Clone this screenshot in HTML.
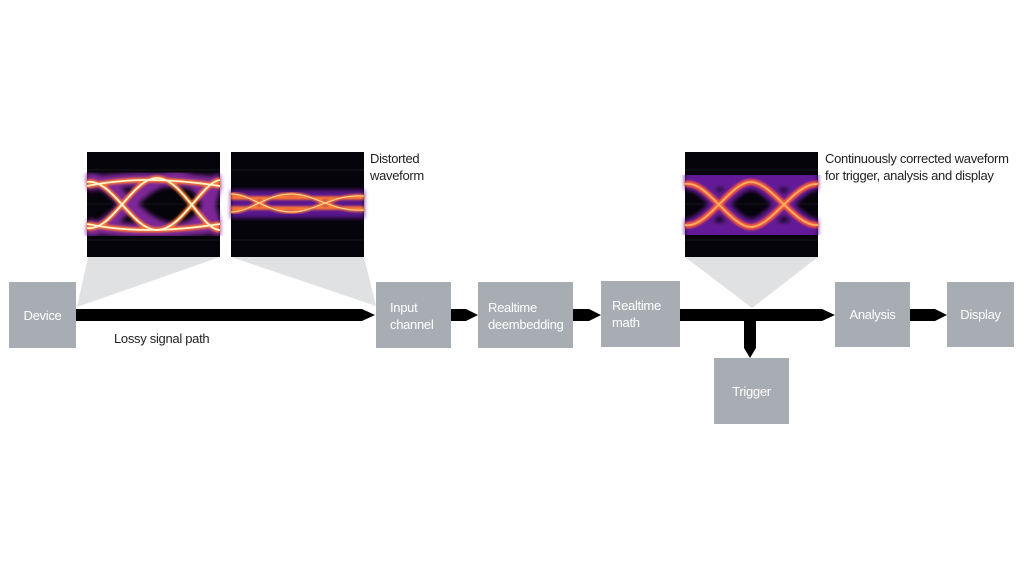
<!DOCTYPE html>
<html><head><style>
body{margin:0;width:1024px;height:576px;background:#fff;position:relative;overflow:hidden;font-family:"Liberation Sans",sans-serif}
.b{position:absolute;background:#a8adb3;color:#fff;font-size:13px;line-height:17px;box-sizing:border-box;letter-spacing:-0.3px}
.c{display:flex;align-items:center;justify-content:center}
.t{position:absolute;font-size:13px;line-height:17px;color:#222;letter-spacing:-0.3px}
</style></head><body>
<svg width="1024" height="576" style="position:absolute;left:0;top:0">
<defs>
<filter id="bl"><feGaussianBlur stdDeviation="2.5"/></filter>
<filter id="bl2"><feGaussianBlur stdDeviation="1"/></filter>
<g id="eye">
<rect width="133" height="105" fill="#05040a"/>
<g stroke="#2a2a2a" stroke-width="0.5">
<line x1="0" y1="18" x2="133" y2="18"/><line x1="0" y1="52" x2="133" y2="52"/><line x1="0" y1="88" x2="133" y2="88"/>
</g>
</g>
</defs>
<polygon points="88,257 220,257 77,307" fill="#dfe1e3"/>
<polygon points="231,257 364,257 376,306" fill="#dfe1e3"/>
<polygon points="685,257 818,257 752,308" fill="#dfe1e3"/>
<!-- image 1 -->
<g transform="translate(87,152)">
<use href="#eye"/>
<g fill="none" filter="url(#bl)" stroke="#8a2aa8" stroke-width="14" opacity="0.9">
<path d="M0,28 C30,24 50,80 90,78 S120,30 133,28"/><path d="M0,78 C30,80 50,24 90,26 S120,78 133,78"/>
<path d="M0,32 C40,26 80,26 133,32"/><path d="M0,74 C40,80 80,80 133,74"/>
</g>
<g fill="none" filter="url(#bl2)" stroke="#ff7a30" stroke-width="5">
<path d="M0,30 C25,26 45,78 70,78 S115,30 133,28"/><path d="M0,76 C25,80 45,26 70,26 S115,78 133,78"/>
<path d="M0,34 C40,26 80,26 133,34"/><path d="M0,72 C40,80 80,80 133,72"/>
</g>
<g fill="none" stroke="#fff4d0" stroke-width="1.8">
<path d="M0,30 C25,26 45,78 70,78 S115,30 133,28"/><path d="M0,76 C25,80 45,26 70,26 S115,78 133,78"/>
<path d="M0,34 C40,26 80,26 133,34"/><path d="M0,72 C40,80 80,80 133,72"/>
</g>
</g>
<!-- image 2 -->
<g transform="translate(231,152)">
<use href="#eye"/>
<rect x="0" y="38" width="133" height="28" fill="#5a1590" filter="url(#bl)"/>
<g fill="none" filter="url(#bl2)" stroke="#ff7a30" stroke-width="3.5">
<path d="M0,42 C20,42 35,60 60,60 S100,42 133,44"/><path d="M0,60 C20,60 35,42 60,42 S100,60 133,58"/>
<path d="M0,46 L133,46"/><path d="M0,56 L133,56"/>
</g>
<g fill="none" stroke="#ffe0a0" stroke-width="1"><path d="M0,42 C20,42 35,60 60,60 S100,42 133,44"/><path d="M0,60 C20,60 35,42 60,42 S100,60 133,58"/></g>
</g>
<!-- image 3 -->
<g transform="translate(685,152)">
<use href="#eye"/>
<g fill="none" filter="url(#bl)" stroke="#6a1aa0" stroke-width="16" opacity="0.95">
<path d="M0,30 C25,28 45,75 66,75 S110,30 133,30"/><path d="M0,75 C25,75 45,30 66,30 S110,75 133,75"/>
<path d="M0,28 L133,28"/><path d="M0,78 L133,78"/>
</g>
<g fill="none" filter="url(#bl2)" stroke="#ff5a3a" stroke-width="6">
<path d="M0,32 C22,28 45,75 66,75 S110,30 133,32"/><path d="M0,73 C22,77 45,30 66,30 S110,75 133,73"/>
</g>
<g fill="none" stroke="#ffb060" stroke-width="1.8">
<path d="M0,32 C22,28 45,75 66,75 S110,30 133,32"/><path d="M0,73 C22,77 45,30 66,30 S110,75 133,73"/>
</g>
</g>
<!-- arrows -->
<g fill="#000">
<polygon points="76,309 362,309 375,315 362,321 76,321"/>
<polygon points="451,309 466,309 478,315 466,321 451,321"/>
<polygon points="573,309 589,309 601,315 589,321 573,321"/>
<polygon points="680,309 822,309 835,315 822,321 680,321"/>
<polygon points="910,309 935,309 947,315 935,321 910,321"/>
<polygon points="744,318 756,318 756,348 750,358 744,348"/>
</g>
</svg>
<div class="b c" style="left:9px;top:282px;width:67px;height:66px">Device</div>
<div class="b" style="left:376px;top:282px;width:75px;height:66px;padding:17px 0 0 14px">Input<br>channel</div>
<div class="b" style="left:478px;top:282px;width:95px;height:66px;padding:17px 0 0 10px">Realtime<br>deembedding</div>
<div class="b" style="left:601px;top:281px;width:79px;height:66px;padding:16px 0 0 11px">Realtime<br>math</div>
<div class="b c" style="left:835px;top:282px;width:75px;height:65px">Analysis</div>
<div class="b c" style="left:947px;top:282px;width:67px;height:65px">Display</div>
<div class="b c" style="left:714px;top:358px;width:75px;height:66px">Trigger</div>
<div class="t" style="left:114px;top:330px">Lossy signal path</div>
<div class="t" style="left:370px;top:150px">Distorted<br>waveform</div>
<div class="t" style="left:825px;top:150px">Continuously corrected waveform<br>for trigger, analysis and display</div>
</body></html>
